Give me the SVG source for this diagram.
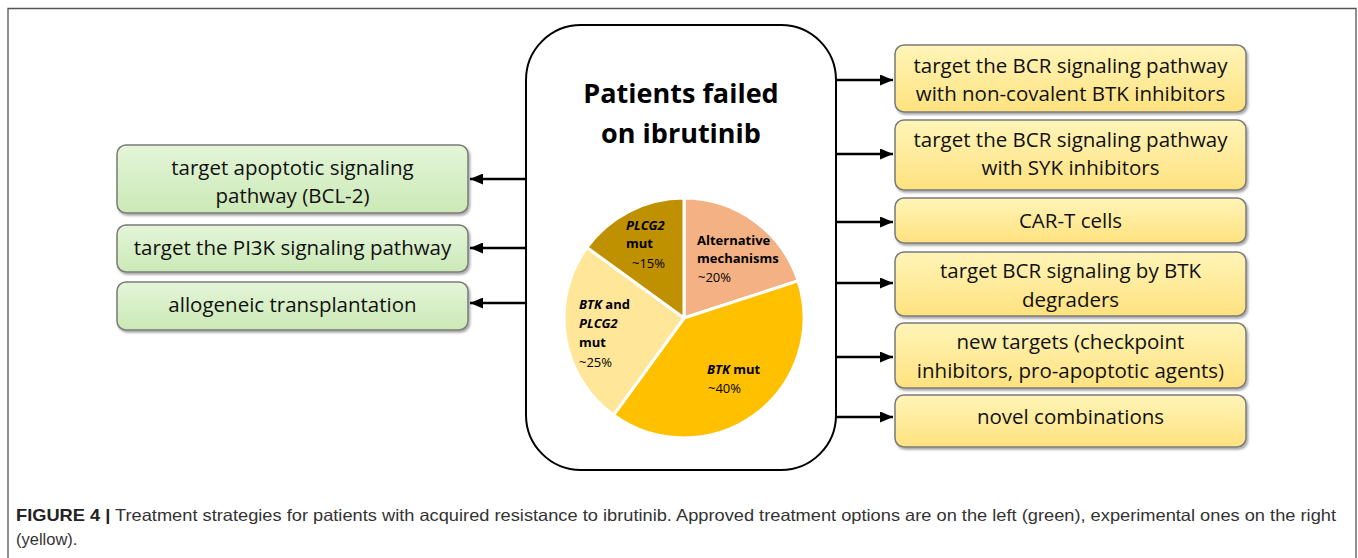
<svg xmlns="http://www.w3.org/2000/svg" width="1358" height="558" viewBox="0 0 1358 558">
<style>
.frame{fill:none;stroke:#555;stroke-width:1.3}
.gbox{fill:url(#gG);stroke:#7a7a7a;stroke-width:1.5;filter:url(#sh)}
.ybox{fill:url(#gY);stroke:#7a7a7a;stroke-width:1.5;filter:url(#sh)}
.bt{font-family:"Open Sans","DejaVu Sans",sans-serif;font-size:20.5px;fill:#111;text-anchor:middle}
.title{font-family:"Open Sans","DejaVu Sans",sans-serif;font-size:27px;font-weight:700;fill:#000;text-anchor:middle}
.pt{font-family:"Open Sans","DejaVu Sans",sans-serif;font-size:13px;fill:#000}
.b{font-weight:700}
.bi{font-weight:700;font-style:italic}
.conn line{stroke:#000;stroke-width:2.4;marker-end:url(#ah)}
.cap{font-family:"Liberation Sans",Arial,sans-serif;font-size:16.5px;fill:#333}
.slice{stroke:#fff;stroke-width:3;stroke-linejoin:round}
</style>
<defs>
<linearGradient id="gG" x1="0" y1="0" x2="0" y2="1">
<stop offset="0" stop-color="#e4f5d9"/>
<stop offset="1" stop-color="#cbe9b6"/>
</linearGradient>
<linearGradient id="gY" x1="0" y1="0" x2="0" y2="1">
<stop offset="0" stop-color="#fff4b8"/>
<stop offset="1" stop-color="#ffe27f"/>
</linearGradient>
<filter id="sh" x="-5%" y="-10%" width="110%" height="130%">
<feDropShadow dx="1.5" dy="2" stdDeviation="1.2" flood-color="#000" flood-opacity="0.35"/>
</filter>
<marker id="ah" markerWidth="13" markerHeight="11" refX="13" refY="5.5" orient="auto" markerUnits="userSpaceOnUse">
<path d="M0,0 L13,5.5 L0,11 Z" fill="#000"/>
</marker>
</defs>
<rect width="1358" height="558" fill="#fff"/>
<path class="frame" d="M8,570 V8.5 H1356 V570"/>

<g id="center">
<rect x="526" y="25" width="310" height="445" rx="55" ry="55" fill="#fff" stroke="#000" stroke-width="2"/>
<text class="title" x="681" y="103">Patients failed</text>
<text class="title" x="681" y="143">on ibrutinib</text>
</g>

<g id="pie">
<path class="slice" fill="#f4b183" d="M684,318 L684,198 A120,120 0 0 1 798.13,280.92 Z"/>
<path class="slice" fill="#ffc000" d="M684,318 L798.13,280.92 A120,120 0 0 1 613.47,415.08 Z"/>
<path class="slice" fill="#ffe699" d="M684,318 L613.47,415.08 A120,120 0 0 1 586.92,247.47 Z"/>
<path class="slice" fill="#bf9000" d="M684,318 L586.92,247.47 A120,120 0 0 1 684,198 Z"/>
<text class="pt b" x="697" y="245">Alternative</text>
<text class="pt b" x="697" y="263">mechanisms</text>
<text class="pt" x="698" y="282">~20%</text>
<text class="pt bi" x="626" y="230">PLCG2</text>
<text class="pt b" x="626" y="248">mut</text>
<text class="pt" x="632" y="268">~15%</text>
<text class="pt" x="579" y="309"><tspan class="bi">BTK</tspan><tspan class="b"> and</tspan></text>
<text class="pt bi" x="579" y="328">PLCG2</text>
<text class="pt b" x="579" y="347">mut</text>
<text class="pt" x="579" y="367">~25%</text>
<text class="pt" x="707" y="374"><tspan class="bi">BTK</tspan><tspan class="b"> mut</tspan></text>
<text class="pt" x="708" y="393">~40%</text>
</g>

<g id="g1"><rect class="gbox" x="117" y="145" width="351" height="68" rx="9"/>
<text class="bt" x="292.5" y="175">target apoptotic signaling</text>
<text class="bt" x="292.5" y="203">pathway (BCL-2)</text></g>
<g id="g2"><rect class="gbox" x="117" y="225" width="351" height="47" rx="9"/>
<text class="bt" x="292.5" y="255">target the PI3K signaling pathway</text></g>
<g id="g3"><rect class="gbox" x="117" y="282" width="351" height="48" rx="9"/>
<text class="bt" x="292.5" y="312">allogeneic transplantation</text></g>

<g id="y1"><rect class="ybox" x="895" y="45" width="351" height="67" rx="9"/>
<text class="bt" x="1070.5" y="73">target the BCR signaling pathway</text>
<text class="bt" x="1070.5" y="101">with non-covalent BTK inhibitors</text></g>
<g id="y2"><rect class="ybox" x="895" y="120" width="351" height="70" rx="9"/>
<text class="bt" x="1070.5" y="147">target the BCR signaling pathway</text>
<text class="bt" x="1070.5" y="175">with SYK inhibitors</text></g>
<g id="y3"><rect class="ybox" x="895" y="198" width="351" height="45" rx="9"/>
<text class="bt" x="1070.5" y="228">CAR-T cells</text></g>
<g id="y4"><rect class="ybox" x="895" y="252" width="351" height="64" rx="9"/>
<text class="bt" x="1070.5" y="278">target BCR signaling by BTK</text>
<text class="bt" x="1070.5" y="307">degraders</text></g>
<g id="y5"><rect class="ybox" x="895" y="323" width="351" height="65" rx="9"/>
<text class="bt" x="1070.5" y="349">new targets (checkpoint</text>
<text class="bt" x="1070.5" y="378">inhibitors, pro-apoptotic agents)</text></g>
<g id="y6"><rect class="ybox" x="895" y="395" width="351" height="52" rx="9"/>
<text class="bt" x="1070.5" y="424">novel combinations</text></g>

<g id="connectors" class="conn">
<line x1="526" y1="179" x2="470" y2="179"/>
<line x1="526" y1="248" x2="470" y2="248"/>
<line x1="526" y1="303" x2="470" y2="303"/>
<line x1="836" y1="80" x2="893" y2="80"/>
<line x1="836" y1="154" x2="893" y2="154"/>
<line x1="836" y1="222" x2="893" y2="222"/>
<line x1="836" y1="283" x2="893" y2="283"/>
<line x1="836" y1="357" x2="893" y2="357"/>
<line x1="836" y1="417" x2="893" y2="417"/>
</g>

<g id="caption">
<text class="cap" x="16" y="521" textLength="1320" lengthAdjust="spacingAndGlyphs"><tspan font-weight="700" fill="#222">FIGURE 4 |</tspan> Treatment strategies for patients with acquired resistance to ibrutinib. Approved treatment options are on the left (green), experimental ones on the right</text>
<text class="cap" x="16" y="545">(yellow).</text>
</g>
</svg>
